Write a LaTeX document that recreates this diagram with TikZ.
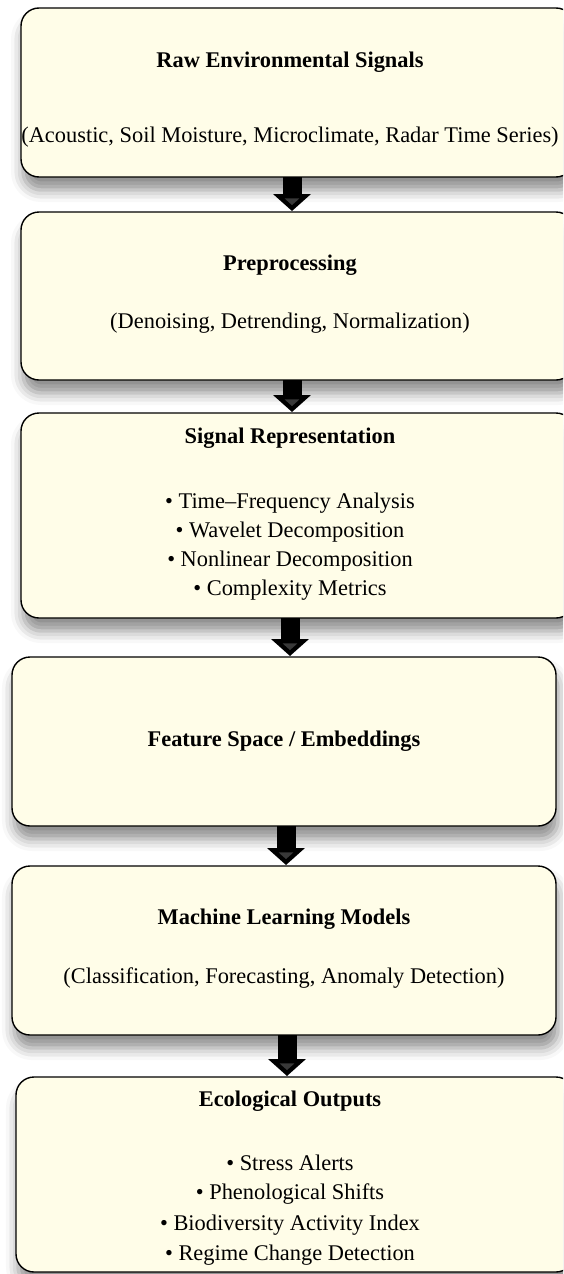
\documentclass[tikz,border=0pt]{standalone}
\usepackage{fontspec}
\setmainfont{Liberation Serif}
\usetikzlibrary{arrows.meta,shadows.blur}
\definecolor{boxfill}{RGB}{255,253,232}
\tikzset{
  stage/.style={draw=black, line width=1.4pt, fill=boxfill, rounded corners=18pt,
    blur shadow={shadow xshift=2pt, shadow yshift=-13pt, shadow blur radius=12pt, shadow opacity=45}},
  title/.style={font=\fontsize{22.4}{26}\selectfont\bfseries, inner sep=0pt},
  body/.style={font=\fontsize{22.4}{26}\selectfont, inner sep=0pt},
  flow/.style={line width=19pt, -{Triangle[width=37pt,length=17pt]}}
}
\begin{document}
\begin{tikzpicture}[x=1pt,y=-1pt]
\useasboundingbox (0,0) rectangle (563,1274);
\clip (0,0) rectangle (563,1274);

% stage boxes, each with its heading and contents
\path[stage] (21,8) rectangle (574,177);
\node[title] (t1) at (290,62) {Raw Environmental Signals};
\node[body]  (s1) at (290,137) {(Acoustic, Soil Moisture, Microclimate, Radar Time Series)};

\path[stage] (21,212) rectangle (574,380);
\node[title] (t2) at (290,265) {Preprocessing};
\node[body]  (s2) at (290,323) {(Denoising, Detrending, Normalization)};

\path[stage] (21,413) rectangle (574,618);
\node[title] (t3) at (290,438) {Signal Representation};
\node[body]  (s3a) at (290,503) {\textbullet\ Time–Frequency Analysis};
\node[body]  (s3b) at (290,532) {\textbullet\ Wavelet Decomposition};
\node[body]  (s3c) at (290,561) {\textbullet\ Nonlinear Decomposition};
\node[body]  (s3d) at (290,590) {\textbullet\ Complexity Metrics};

\path[stage] (12,657) rectangle (556,826);
\node[title] (t4) at (284,741) {Feature Space / Embeddings};

\path[stage] (12,866) rectangle (556,1035);
\node[title] (t5) at (284,919) {Machine Learning Models};
\node[body]  (s5) at (284,978) {(Classification, Forecasting, Anomaly Detection)};

\path[stage] (16,1077) rectangle (574,1272);
\node[title] (t6) at (290,1101) {Ecological Outputs};
\node[body]  (s6a) at (290,1163) {\textbullet\ Stress Alerts};
\node[body]  (s6b) at (290,1194) {\textbullet\ Phenological Shifts};
\node[body]  (s6c) at (290,1225) {\textbullet\ Biodiversity Activity Index};
\node[body]  (s6d) at (290,1255) {\textbullet\ Regime Change Detection};

% block arrows from one stage down to the next
\coordinate (a1s) at (292,177); \coordinate (a1e) at (292,211);
\coordinate (a2s) at (292,380); \coordinate (a2e) at (292,412);
\coordinate (a3s) at (290,618); \coordinate (a3e) at (290,656);
\coordinate (a4s) at (286,826); \coordinate (a4e) at (286,865);
\coordinate (a5s) at (287,1035); \coordinate (a5e) at (287,1076);
\draw[flow] (a1s) -- (a1e);
\draw[flow] (a2s) -- (a2e);
\draw[flow] (a3s) -- (a3e);
\draw[flow] (a4s) -- (a4e);
\draw[flow] (a5s) -- (a5e);
\end{tikzpicture}
\end{document}
